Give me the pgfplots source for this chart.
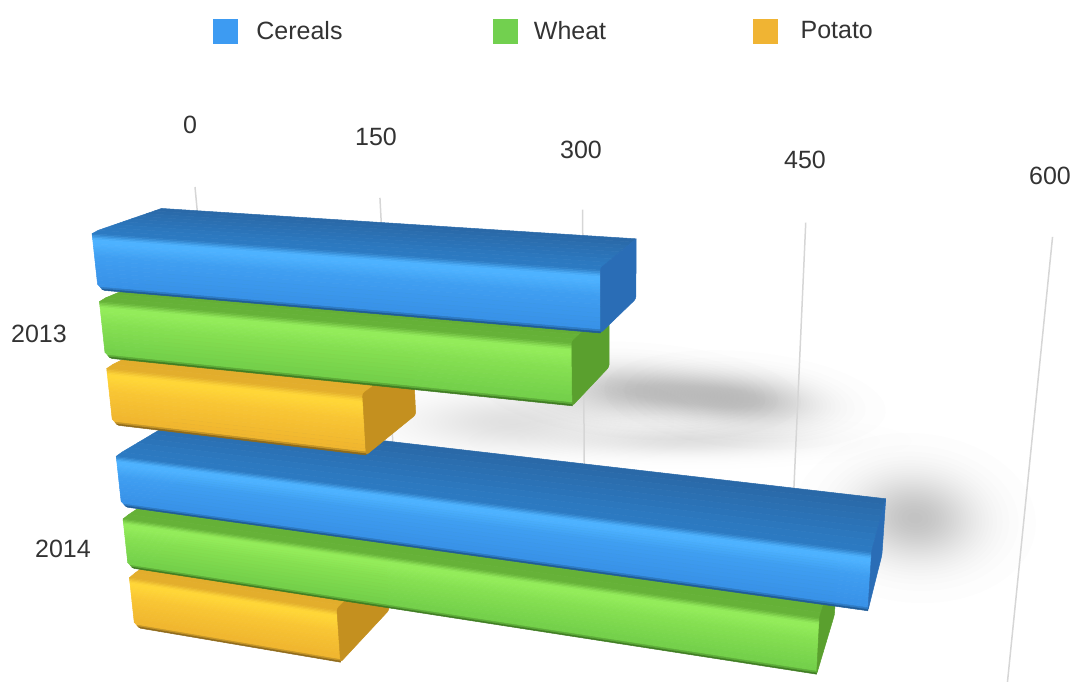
\documentclass[border=0pt]{standalone}
\usepackage{pgfplots}
\usepackage{pgfplotstable}
\usepackage{fontspec}
\setmainfont{Liberation Sans}
\pgfplotsset{compat=1.18}

% Per-series shades: T top face, U top face near the seam, H highlight,
% M front face, L lower front face, E bottom edge, C end cap, K legend key
\definecolor{cerT}{HTML}{2A68A6}\definecolor{cerU}{HTML}{2C7AC2}\definecolor{cerH}{HTML}{4DB2FF}
\definecolor{cerM}{HTML}{409FF2}\definecolor{cerL}{HTML}{3892E8}\definecolor{cerE}{HTML}{1F5C98}
\definecolor{cerC}{HTML}{2A6DB6}\definecolor{cerK}{HTML}{3D9BF2}
\definecolor{wheT}{HTML}{5A9E2E}\definecolor{wheU}{HTML}{66B238}\definecolor{wheH}{HTML}{93EC5A}
\definecolor{wheM}{HTML}{86E052}\definecolor{wheL}{HTML}{74D04A}\definecolor{wheE}{HTML}{3F7D22}
\definecolor{wheC}{HTML}{5AA02E}\definecolor{wheK}{HTML}{72D04F}
\definecolor{potT}{HTML}{D39C26}\definecolor{potU}{HTML}{E3AE2C}\definecolor{potH}{HTML}{FFD637}
\definecolor{potM}{HTML}{F9C634}\definecolor{potL}{HTML}{F0B62F}\definecolor{potE}{HTML}{8F6A1A}
\definecolor{potC}{HTML}{C4901F}\definecolor{potK}{HTML}{F0B433}
\definecolor{gridgray}{HTML}{D6D6D6}
\definecolor{labelgray}{HTML}{333333}

% One row per bar: value, series, lateral extent on the floor plane
\pgfplotstableread{
year value series qa qb
2013 350 cer 0.00209 0.01412
2013 332 whe 0.01622 0.02864
2013 191 pot 0.03059 0.04340
2014 515 cer 0.05020 0.06210
2014 487 whe 0.06470 0.07660
2014 162 pot 0.07870 0.09120
}\bardata

% Perspective projection: value, lateral position, height above the floor
\newcommand\project[3]{%
  \pgfmathsetmacro\tv{#1/150}%
  \pgfmathsetmacro\wv{1-0.0438*\tv+(#2)+(#3)}%
  \pgfmathsetmacro\px{(195+168.3*\tv+611*(#2)+1047*(#3))/\wv}%
  \pgfmathsetmacro\py{(187+2.1*\tv+4597*(#2)-97*(#3))/\wv}%
}
\newcommand\rback{-0.040}
\newcommand\rfront{-0.109}
\def\faceopts{}

% Closed quadrilateral from four projected corners
\newcommand\quadface[5]{%
  \project#2\edef\xa{\px}\edef\ya{\py}%
  \project#3\edef\xb{\px}\edef\yb{\py}%
  \project#4\edef\xc{\px}\edef\yc{\py}%
  \project#5\edef\xd{\px}\edef\yd{\py}%
  \edef\temp{\noexpand\addplot[forget plot,fill=#1,draw=#1,line width=0.5pt,line join=round,\faceopts]
    coordinates {(\xa,\ya)(\xb,\yb)(\xc,\yc)(\xd,\yd)(\xa,\ya)};}%
  \temp
}

% One lengthwise band of a bar's surface: colour, then the fractions across
% the bar and up its height at both long edges, with the left-end inset
\newcommand\band[7]{%
  \pgfmathsetmacro\qone{\Qa+#2*(\Qb-\Qa)}%
  \pgfmathsetmacro\rone{\rback+#3*(\rfront-\rback)}%
  \pgfmathsetmacro\qtwo{\Qa+#5*(\Qb-\Qa)}%
  \pgfmathsetmacro\rtwo{\rback+#6*(\rfront-\rback)}%
  \pgfmathsetmacro\sone{#4-40*\qone}%
  \pgfmathsetmacro\stwo{#7-40*\qtwo}%
  \edef\ba{{\sone}{\qone}{\rone}}\edef\bb{{\V}{\qone}{\rone}}%
  \edef\bc{{\V}{\qtwo}{\rtwo}}\edef\bd{{\stwo}{\qtwo}{\rtwo}}%
  \edef\temp{\noexpand\quadface{#1}{\ba}{\bb}{\bc}{\bd}}\temp
}

% Bands blending from one colour to another across the front face:
% colour A, colour B, fraction from, fraction to, number of bands, inset
\newcommand\frontblend[6]{%
  \pgfplotsforeachungrouped \gj in {1,...,#5}{%
    \pgfmathsetmacro\fa{#3+(\gj-1)*(#4-#3)/#5}%
    \pgfmathsetmacro\fb{#3+\gj*(#4-#3)/#5}%
    \pgfmathtruncatemacro\mixp{(\gj-0.5)*100/#5}%
    \edef\mixc{#2!\mixp!#1}%
    \edef\temp{\noexpand\band{\mixc}{\fa}{1}{#6}{\fb}{1}{#6}}\temp
  }%
}

% The same across the top face, from the back edge towards the seam
\newcommand\topblend[6]{%
  \pgfplotsforeachungrouped \gj in {1,...,#5}{%
    \pgfmathsetmacro\fa{#3+(\gj-1)*(#4-#3)/#5}%
    \pgfmathsetmacro\fb{#3+\gj*(#4-#3)/#5}%
    \pgfmathtruncatemacro\mixp{(\gj-0.5)*100/#5}%
    \edef\mixc{#2!\mixp!#1}%
    \edef\temp{\noexpand\band{\mixc}{0}{\fa}{#6}{0}{\fb}{#6}}\temp
  }%
}

\newcommand\drawbar{%
  \def\faceopts{}%
  \topblend{\S T}{\S U}{0}{.93}{8}{1}%
  \band{\S U}{0}{.93}{1}{.03}{1}{0}%
  \frontblend{\S U}{\S H}{.03}{.13}{4}{0}%
  \band{\S H}{.13}{1}{0}{.2}{1}{0}%
  \frontblend{\S H}{\S M}{.2}{.42}{5}{0}%
  \frontblend{\S M}{\S L}{.42}{.9}{7}{0}%
  \band{\S L}{.9}{1}{0}{.95}{1}{2}%
  \band{\S L!55!\S E}{.95}{1}{2}{.98}{1}{3}%
  \band{\S E}{.98}{1}{3}{1}{1}{5}%
  \edef\ca{{\V}{\Qa}{\rback}}\edef\cb{{\V}{\Qa}{\rfront}}%
  \edef\cc{{\V}{\Qb}{\rfront}}\edef\cd{{\V}{\Qb}{\rback}}%
  \def\faceopts{rounded corners=2.5pt}%
  \edef\temp{\noexpand\quadface{\S C}{\ca}{\cb}{\cc}{\cd}}\temp
}

% Soft blob with a bell-shaped falloff: centre x, centre y, rotation,
% spread along x and y, opacity of each nested layer
\newcommand\softshadow[6]{%
  \foreach \k in {1,...,30}{%
    \pgfmathsetmacro\f{sqrt(-ln((\k-0.5)/30))}%
    \fill[black,opacity=#6,shift={(#1,#2)},rotate=#3] (0,0) ellipse [x radius=\f*#4pt,y radius=\f*#5pt];
  }%
}

\begin{document}
\begin{tikzpicture}[x=1pt,y=1pt]
\useasboundingbox (0,0) rectangle (1077,681);

% Shadows cast on the floor
\softshadow{640}{290}{-4}{80}{24}{0.0065}
\softshadow{745}{281}{-5}{70}{24}{0.0075}
\softshadow{510}{259}{0}{95}{26}{0.0055}
\softshadow{690}{240}{0}{110}{14}{0.0030}
\softshadow{915}{163}{-5}{60}{42}{0.0085}

\begin{axis}[
  at={(0,0)},anchor=south west,
  scale only axis,width=1077pt,height=681pt,
  xmin=0,xmax=1077,ymin=0,ymax=681,y dir=reverse,
  hide axis,
  legend style={draw=none,fill=none,at={(axis cs:213,31)},anchor=west,
    legend columns=3,inner sep=0pt,outer sep=0pt,
    font=\fontsize{25.5}{30}\selectfont\color{labelgray},
    /tikz/column 1/.style={column sep=19pt},
    /tikz/column 2/.style={column sep=150pt},
    /tikz/column 3/.style={column sep=17pt},
    /tikz/column 4/.style={column sep=147pt},
    /tikz/column 5/.style={column sep=23pt},
    nodes={inner sep=0pt}},
  legend cell align=left,
  legend image code/.code={\fill[#1] (0pt,-12pt) rectangle (24pt,12pt);},
]

\addlegendimage{color=cerK}\addlegendentry{Cereals}
\addlegendimage{color=wheK}\addlegendentry{Wheat}
\addlegendimage{color=potK}\addlegendentry{Potato}

% Value gridlines across the floor
\pgfplotsforeachungrouped \gv in {0,150,300,450,600}{
  \project{\gv}{0}{0}\edef\xa{\px}\edef\ya{\py}%
  \project{\gv}{0.0950}{0}\edef\xb{\px}\edef\yb{\py}%
  \edef\temp{\noexpand\addplot[forget plot,gridgray,line width=1.5pt] coordinates {(\xa,\ya)(\xb,\yb)};}\temp
}

% Bars, nearest row last
\pgfplotsforeachungrouped \i in {5,4,3,2,1,0}{
  \pgfplotstablegetelem{\i}{value}\of\bardata\edef\V{\pgfplotsretval}%
  \pgfplotstablegetelem{\i}{series}\of\bardata\edef\S{\pgfplotsretval}%
  \pgfplotstablegetelem{\i}{qa}\of\bardata\edef\Qa{\pgfplotsretval}%
  \pgfplotstablegetelem{\i}{qb}\of\bardata\edef\Qb{\pgfplotsretval}%
  \drawbar
}

\tikzset{every node/.style={font=\fontsize{25}{30}\selectfont,text=labelgray}}
\node at (axis cs:190,125) {0};
\node at (axis cs:376,137) {150};
\node at (axis cs:581,150) {300};
\node at (axis cs:805,160) {450};
\node at (axis cs:1050,176) {600};
\node at (axis cs:39,334) {2013};
\node at (axis cs:63,549) {2014};
\end{axis}
\end{tikzpicture}
\end{document}
